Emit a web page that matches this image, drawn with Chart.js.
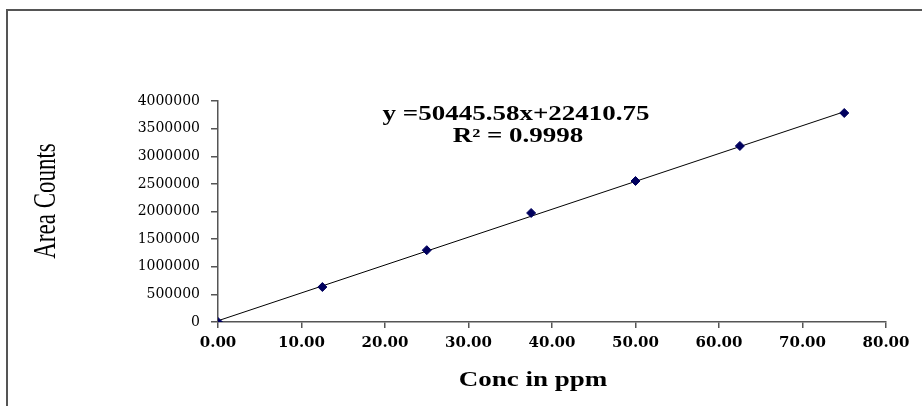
<!DOCTYPE html>
<html>
<head>
<meta charset="utf-8">
<title>Calibration curve</title>
<script src="https://cdn.jsdelivr.net/npm/chart.js@4"></script>
<style>
  html, body { margin: 0; padding: 0; background: #fff; }
  canvas { display: block; }
</style>
</head>
<body>
<canvas id="calibChart" width="922" height="406"></canvas>
<script>
// concentrations (ppm) and measured peak areas
const concPpm = [0, 12.5, 25, 37.5, 50, 62.5, 75];
const areaCounts = [0, 633000, 1300000, 1973000, 2552000, 3186000, 3783000];

// linear fit line as printed on the chart (endpoints)
const trendX = [0, 75];
const trendY = [22410.75, 3805829.25];

const equationText = 'y =50445.58x+22410.75';
const r2Text = 'R\u00B2 = 0.9998';

// draws the frame, the stretched serif titles and the fit equation
const textPlugin = {
  id: 'chartText',
  beforeDraw(chart) {
    const c = chart.ctx;
    c.save();
    c.strokeStyle = '#555';
    c.lineWidth = 2;
    c.beginPath();
    c.moveTo(7, 406);
    c.lineTo(7, 10);
    c.lineTo(922, 10);
    c.stroke();
    c.restore();
  },
  afterDraw(chart) {
    const c = chart.ctx;
    const stretch = 1.35;

    function drawText(txt, x, y, font, rot) {
      c.save();
      c.translate(x, y);
      if (rot) {
        c.rotate(-Math.PI / 2);
        c.scale(1, stretch);
      } else {
        c.scale(stretch, 1);
      }
      c.font = font;
      c.fillStyle = '#000';
      c.textAlign = 'center';
      c.textBaseline = 'middle';
      c.fillText(txt, 0, 0);
      c.restore();
    }

    drawText(equationText, 516, 115, 'bold 20px "Liberation Serif"');
    drawText(r2Text, 518, 137, 'bold 20px "Liberation Serif"');
    drawText('Conc in ppm', 533, 381, 'bold 20px "Liberation Serif"');
    drawText('Area Counts', 47, 201, '23px "Liberation Serif"', true);
  }
};

const ctx = document.getElementById('calibChart').getContext('2d');
new Chart(ctx, {
  type: 'scatter',
  data: {
    datasets: [
      {
        label: 'Area',
        data: concPpm.map((x, i) => ({ x: x, y: areaCounts[i] })),
        pointStyle: 'rectRot',
        pointRadius: 4.5,
        backgroundColor: '#00005e',
        borderColor: '#00005e',
        borderWidth: 1,
        showLine: false,
        order: 1
      },
      {
        label: 'Linear fit',
        type: 'line',
        data: trendX.map((x, i) => ({ x: x, y: trendY[i] })),
        borderColor: '#000',
        borderWidth: 1,
        pointRadius: 0,
        fill: false,
        order: 2
      }
    ]
  },
  options: {
    responsive: false,
    animation: false,
    layout: { padding: { left: 0, top: 101, right: 36, bottom: 0 } },
    plugins: {
      legend: { display: false },
      tooltip: { enabled: false }
    },
    scales: {
      x: {
        type: 'linear',
        min: 0,
        max: 80,
        afterFit: s => { s.height = 84; },
        border: { color: '#555', width: 1.5 },
        grid: { drawOnChartArea: false, drawTicks: true, tickLength: 6, color: '#555', lineWidth: 1.5 },
        ticks: {
          stepSize: 10,
          padding: 6,
          color: '#000',
          font: { family: '"DejaVu Serif"', size: 15, weight: 'bold' },
          callback: v => v.toFixed(2)
        }
      },
      y: {
        min: 0,
        max: 4000000,
        afterFit: s => { s.width = 218; },
        border: { color: '#555', width: 1.5 },
        grid: { drawOnChartArea: false, drawTicks: true, tickLength: 7, color: '#555', lineWidth: 1.5 },
        ticks: {
          stepSize: 500000,
          padding: 11,
          color: '#000',
          font: { family: '"DejaVu Serif"', size: 14 },
          callback: v => String(v)
        }
      }
    }
  },
  plugins: [textPlugin]
});
</script>
</body>
</html>
